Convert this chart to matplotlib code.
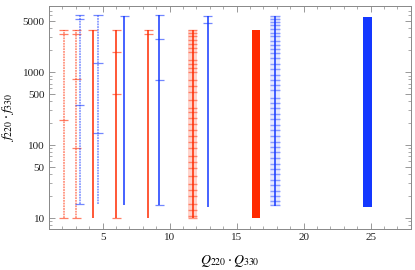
import numpy as np
import matplotlib.pyplot as plt
from matplotlib.ticker import FixedLocator, NullFormatter, LogLocator, MultipleLocator

plt.rcParams['font.family'] = ['Liberation Serif', 'DejaVu Serif']
plt.rcParams['mathtext.fontset'] = 'stix'

RED = '#ff2a00'
BLUE = '#1438ff'

# single columns: x position, low end, high end, cap heights
red_x = [2.10, 3.05, 4.25, 6.02, 8.41]
red_lo = [10, 10, 10, 10, 10]
red_hi = [3800, 3850, 3800, 3850, 3800]
red_caps = [[3800, 3300, 222, 10],
            [3850, 3300, 817, 91, 10],
            [3800],
            [3850, 1880, 500, 10],
            [3800, 3300]]
red_dotted = [True, True, False, False, False]

blue_x = [3.30, 4.67, 6.62, 9.24, 12.83]
blue_lo = [15.5, 15.5, 15, 15, 14.4]
blue_hi = [6000, 6050, 5900, 6000, 5900]
blue_caps = [[6000, 5300, 356, 15.5],
             [6050, 1330, 146],
             [5900],
             [6000, 2880, 778, 15],
             [5900, 4800]]
blue_dotted = [True, True, False, False, False]

# dense columns
red_dense_x = 11.73
red_dense_lo, red_dense_hi = 10, 3850
red_dense_caps = [3800, 3450, 3140, 2770, 2440, 2150, 1900, 1470, 1300, 1150, 1010,
                  785, 650, 540, 420, 325, 286, 236, 195, 162, 134, 111, 92, 71,
                  59, 49, 38, 29.5, 24.4, 20.2, 15.7, 13, 10.8, 10]

blue_dense_x = 17.85
blue_dense_lo, blue_dense_hi = 14.5, 5900
blue_dense_caps = [5900, 5400, 4900, 4400, 3900, 3500, 3100, 2700, 2350, 2050, 1840,
                   1560, 1300, 1100, 930, 790, 670, 574, 445, 380, 320, 270, 225,
                   190, 160, 135, 112, 95, 80, 67, 56, 47, 40, 33, 28, 23.5, 20, 17, 15]

# solid filled columns
fill_x = [16.45, 24.76]
fill_lo = [10, 14]
fill_hi = [3850, 5800]
fill_col = [RED, BLUE]

fig = plt.figure(figsize=(4.15, 2.7), dpi=100)
ax = fig.add_axes([0.118, 0.152, 0.872, 0.826])
ax.set_yscale('log')

hw = 0.35


def column(x, lo, hi, caps, color, dotted):
    if dotted:
        ax.vlines(x, lo, hi, color=color, lw=1.3, alpha=0.5, linestyles=(0, (1.0, 0.5)))
    else:
        ax.vlines(x, lo, hi, color=color, lw=1.1)
    ax.hlines(caps, x - hw, x + hw, color=color, lw=0.9, alpha=0.6)


for i in range(len(red_x)):
    column(red_x[i], red_lo[i], red_hi[i], red_caps[i], RED, red_dotted[i])
for i in range(len(blue_x)):
    column(blue_x[i], blue_lo[i], blue_hi[i], blue_caps[i], BLUE, blue_dotted[i])

ax.bar(red_dense_x, red_dense_hi - red_dense_lo, bottom=red_dense_lo, width=2 * hw,
       color=RED, alpha=0.2, lw=0)
ax.hlines(red_dense_caps, red_dense_x - hw, red_dense_x + hw, color=RED, lw=1, alpha=0.5)
ax.vlines(red_dense_x, red_dense_lo, red_dense_hi, color=RED, lw=1.1)

ax.bar(blue_dense_x, blue_dense_hi - blue_dense_lo, bottom=blue_dense_lo, width=2 * hw,
       color=BLUE, alpha=0.1, lw=0)
ax.hlines(blue_dense_caps, blue_dense_x - hw, blue_dense_x + hw, color=BLUE, lw=1, alpha=0.45)
ax.vlines(blue_dense_x, blue_dense_lo, blue_dense_hi, color=BLUE, lw=1.1)

for i in range(len(fill_x)):
    ax.bar(fill_x[i], fill_hi[i] - fill_lo[i], bottom=fill_lo[i], width=0.65,
           color=fill_col[i], lw=0)

ax.set_xlim(1, 28)
ax.set_ylim(7.1, 8100)

ax.xaxis.set_major_locator(MultipleLocator(5))
ax.xaxis.set_minor_locator(MultipleLocator(1))
yt = [10, 50, 100, 500, 1000, 5000]
ax.yaxis.set_major_locator(FixedLocator(yt))
ax.set_yticklabels([str(v) for v in yt])
ax.yaxis.set_minor_locator(LogLocator(base=10, subs=np.arange(2, 10)))
ax.yaxis.set_minor_formatter(NullFormatter())

ax.tick_params(which='both', direction='in', top=True, right=True, color='#888888',
               labelsize=8, labelcolor='#222222', pad=3)
ax.tick_params(which='major', length=4, width=0.6)
ax.tick_params(which='minor', length=2, width=0.5)
for s in ax.spines.values():
    s.set_color('#888888')
    s.set_linewidth(0.7)

ax.set_xlabel(r'$Q_{220}\cdot Q_{330}$', fontsize=10, labelpad=8)
ax.set_ylabel(r'$f_{220}\cdot f_{330}$', fontsize=10, labelpad=5)

fig.savefig('out.png', dpi=100)
